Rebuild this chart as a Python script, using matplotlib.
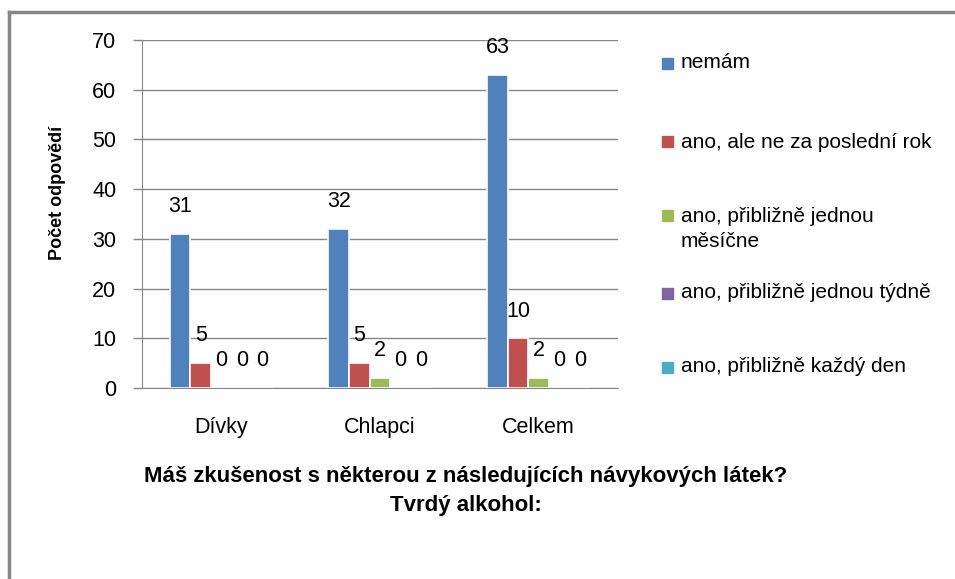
#!/usr/bin/env python3
# Grouped bar chart: hard alcohol experience (Dívky / Chlapci / Celkem)

import matplotlib.pyplot as plt
import numpy as np
from matplotlib.lines import Line2D
from matplotlib.patches import Rectangle

plt.rcParams['font.family'] = ['Liberation Sans', 'DejaVu Sans']

categories = ["Dívky", "Chlapci", "Celkem"]
series = [
    "nemám",
    "ano, ale ne za poslední rok",
    "ano, přibližně jednou\nměsíčne",
    "ano, přibližně jednou týdně",
    "ano, přibližně každý den",
]
nemam = [31, 32, 63]
ano_ne_rok = [5, 5, 10]
ano_mesicne = [0, 2, 2]
ano_tydne = [0, 0, 0]
ano_den = [0, 0, 0]
values = [nemam, ano_ne_rok, ano_mesicne, ano_tydne, ano_den]
colors = ["#4F81BD", "#C0504D", "#9BBB59", "#8064A2", "#4BACC6"]

title = "Máš zkušenost s některou z následujících návykových látek?\nTvrdý alkohol:"
ylabel = "Počet odpovědí"

W, H = 955, 579
fig = plt.figure(figsize=(W / 100, H / 100), dpi=100)
ax = fig.add_axes([142 / W, 1 - 388 / H, (618 - 142) / W, (388 - 40) / H])

x = np.arange(len(categories))
width = 0.13
grey = "#868686"
for i, (vals, col) in enumerate(zip(values, colors)):
    pos = x + (i - 2) * width
    bars = ax.bar(pos, vals, width, color=col, edgecolor="white", linewidth=1.2, zorder=2)
    ax.bar_label(bars, padding=12, fontsize=15.5)

ax.set_xlim(-0.5, len(categories) - 0.5)
ax.set_ylim(0, 70)
ax.set_yticks(range(0, 71, 10))
ax.set_xticks(x)
ax.set_xticklabels(categories, fontsize=15.5)
ax.tick_params(axis="x", length=0, pad=21)
ax.tick_params(axis="y", direction="out", length=6.5, color=grey, width=1, pad=12, labelsize=15.5)
ax.yaxis.grid(True, color=grey, linewidth=1)
ax.set_axisbelow(True)
for s in ("top", "right"):
    ax.spines[s].set_visible(False)
ax.spines["left"].set_color(grey)
ax.spines["bottom"].set_color(grey)

fig.text(57 / W, 1 - 193 / H, ylabel, rotation=90, ha="center", va="center",
         fontsize=13, fontweight="bold")
fig.text(466 / W, 1 - 491 / H, title, ha="center", va="center",
         fontsize=16, fontweight="bold", linespacing=1.45)

# legend drawn by hand to match the spacing of the original
leg_y = [63, 142, 229, 293, 367]
marker_y = [63, 142, 215, 293, 367]
for lab, col, ty, my in zip(series, colors, leg_y, marker_y):
    fig.add_artist(Rectangle((662 / W, 1 - (my + 5.5) / H), 11 / W, 11 / H,
                             transform=fig.transFigure, color=col))
    fig.text(681 / W, 1 - ty / H, lab, ha="left", va="center", fontsize=15, linespacing=1.35)

# outer frame (left and top edges visible)
fig.add_artist(Line2D([9 / W, 9 / W], [0, 1 - 11.5 / H], color=grey, linewidth=2.5,
                      transform=fig.transFigure))
fig.add_artist(Line2D([9 / W, 1], [1 - 11.5 / H, 1 - 11.5 / H], color=grey, linewidth=2.5,
                      transform=fig.transFigure))

fig.savefig("out.png", dpi=100)
